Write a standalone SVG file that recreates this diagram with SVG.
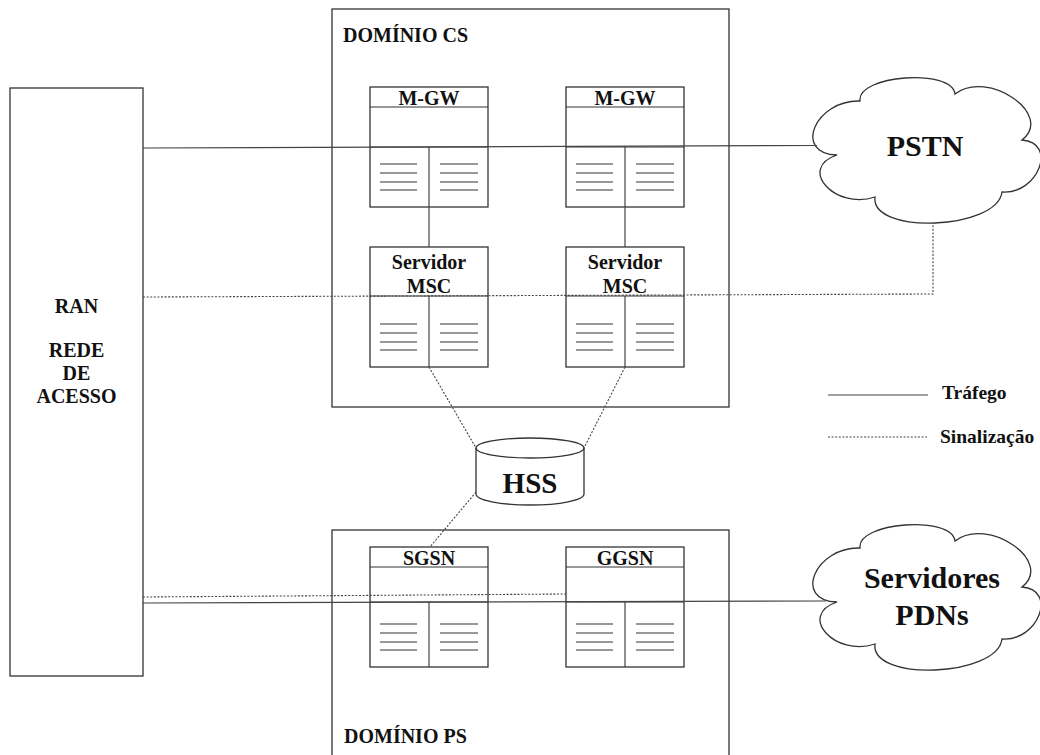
<svg xmlns="http://www.w3.org/2000/svg" xmlns:xlink="http://www.w3.org/1999/xlink" width="1040" height="755" viewBox="0 0 1040 755">
  <style>
    .box { fill: #fff; stroke: #333; stroke-width: 1.3; }
    .dom { fill: none; stroke: #333; stroke-width: 1.3; }
    .rule { stroke: #333; stroke-width: 1.1; }
    .solid { fill: none; stroke: #444; stroke-width: 1.2; }
    .dotted { fill: none; stroke: #444; stroke-width: 1.1; stroke-dasharray: 2 1.6; }
    text { font-family: "Liberation Serif", "Times New Roman", serif; font-weight: bold; fill: #111; }
    .lbl { font-size: 20px; }
    .mid { text-anchor: middle; }
    .big { font-size: 30px; }
    .leg { font-size: 19.5px; }
  </style>
  <defs>
    <!-- cloud outline made of six lobes -->
    <path id="cloud" d="M860,101 C856.7,75 951.7,68 955,94 C987.7,68.7 1054.7,114.7 1022,140 C1058,142.7 1038,194.7 1002,192 C997.3,230 870.3,235 875,197 C835,210.3 797,168.3 837,155 C792.3,153.7 815.3,99.7 860,101 Z"/>
    <!-- compartment with text rules, drawn relative to the box bottom-left -->
    <g id="rules">
      <line class="rule" x1="10" y1="-43" x2="47" y2="-43"/>
      <line class="rule" x1="10" y1="-34" x2="47" y2="-34"/>
      <line class="rule" x1="10" y1="-25" x2="47" y2="-25"/>
      <line class="rule" x1="10" y1="-17" x2="47" y2="-17"/>
      <line class="rule" x1="70" y1="-43" x2="108" y2="-43"/>
      <line class="rule" x1="70" y1="-34" x2="108" y2="-34"/>
      <line class="rule" x1="70" y1="-25" x2="108" y2="-25"/>
      <line class="rule" x1="70" y1="-17" x2="108" y2="-17"/>
    </g>
  </defs>

  <rect width="1040" height="755" fill="#fff"/>

  <!-- access network -->
  <g id="ran">
    <rect class="box" x="10" y="88" width="133" height="588"/>
    <text class="lbl mid" x="76.5" y="313">RAN</text>
    <text class="lbl mid" x="76.5" y="357">REDE</text>
    <text class="lbl mid" x="76.5" y="380">DE</text>
    <text class="lbl mid" x="76.5" y="403">ACESSO</text>
  </g>

  <!-- circuit-switched domain -->
  <g id="dominio-cs">
    <rect class="dom" x="332" y="9" width="397" height="398"/>
    <text class="lbl" x="343" y="42">DOMÍNIO CS</text>
  </g>

  <!-- packet-switched domain -->
  <g id="dominio-ps">
    <rect class="dom" x="332" y="530" width="397" height="240"/>
    <text class="lbl" x="344" y="743">DOMÍNIO PS</text>
  </g>

  <g id="mgw-1">
    <rect class="box" x="370" y="87" width="118" height="120"/>
    <line class="rule" x1="370" y1="107" x2="488" y2="107"/>
    <line class="rule" x1="370" y1="147" x2="488" y2="147"/>
    <line class="rule" x1="429" y1="147" x2="429" y2="207"/>
    <use xlink:href="#rules" transform="translate(370,207)"/>
    <text class="lbl mid" x="429" y="105">M-GW</text>
  </g>

  <g id="mgw-2">
    <rect class="box" x="566" y="87" width="118" height="120"/>
    <line class="rule" x1="566" y1="107" x2="684" y2="107"/>
    <line class="rule" x1="566" y1="147" x2="684" y2="147"/>
    <line class="rule" x1="625" y1="147" x2="625" y2="207"/>
    <use xlink:href="#rules" transform="translate(566,207)"/>
    <text class="lbl mid" x="625" y="105">M-GW</text>
  </g>

  <g id="msc-1">
    <rect class="box" x="370" y="247" width="118" height="120"/>
    <line class="rule" x1="370" y1="296" x2="488" y2="296"/>
    <line class="rule" x1="429" y1="296" x2="429" y2="367"/>
    <use xlink:href="#rules" transform="translate(370,367)"/>
    <text class="lbl mid" x="429" y="269">Servidor</text>
    <text class="lbl mid" x="429" y="293">MSC</text>
  </g>

  <g id="msc-2">
    <rect class="box" x="566" y="247" width="118" height="120"/>
    <line class="rule" x1="566" y1="296" x2="684" y2="296"/>
    <line class="rule" x1="625" y1="296" x2="625" y2="367"/>
    <use xlink:href="#rules" transform="translate(566,367)"/>
    <text class="lbl mid" x="625" y="269">Servidor</text>
    <text class="lbl mid" x="625" y="293">MSC</text>
  </g>

  <g id="sgsn">
    <rect class="box" x="370" y="547" width="118" height="120"/>
    <line class="rule" x1="370" y1="567" x2="488" y2="567"/>
    <line class="rule" x1="370" y1="602" x2="488" y2="602"/>
    <line class="rule" x1="429" y1="602" x2="429" y2="667"/>
    <use xlink:href="#rules" transform="translate(370,667)"/>
    <text class="lbl mid" x="429" y="565">SGSN</text>
  </g>

  <g id="ggsn">
    <rect class="box" x="566" y="547" width="118" height="120"/>
    <line class="rule" x1="566" y1="567" x2="684" y2="567"/>
    <line class="rule" x1="566" y1="602" x2="684" y2="602"/>
    <line class="rule" x1="625" y1="602" x2="625" y2="667"/>
    <use xlink:href="#rules" transform="translate(566,667)"/>
    <text class="lbl mid" x="625" y="565">GGSN</text>
  </g>

  <!-- subscriber database cylinder -->
  <g id="hss">
    <path class="box" d="M476,448 A54,10 0 0 1 584,448 L584,494 A54,11 0 0 1 476,494 Z"/>
    <path class="solid" d="M476,448 A54,10 0 0 0 584,448" style="stroke:#333;stroke-width:1.3"/>
    <text class="mid" x="530" y="493" style="font-size:29px">HSS</text>
  </g>

  <g id="pstn">
    <use xlink:href="#cloud" class="box"/>
    <text class="big mid" x="925" y="156">PSTN</text>
  </g>

  <g id="pdn">
    <use xlink:href="#cloud" class="box" transform="translate(0,447)"/>
    <text class="big mid" x="932" y="588">Servidores</text>
    <text class="big mid" x="932" y="625">PDNs</text>
  </g>

  <!-- connectors -->
  <g id="connectors">
    <line class="solid" x1="143" y1="148" x2="817" y2="145.5"/>
    <line class="solid" x1="429" y1="207" x2="429" y2="247"/>
    <line class="solid" x1="625" y1="207" x2="625" y2="247"/>
    <polyline class="dotted" points="143,297 933,294 933,223"/>
    <line class="dotted" x1="429" y1="367" x2="476" y2="448"/>
    <line class="dotted" x1="625" y1="367" x2="584" y2="448"/>
    <line class="dotted" x1="476" y1="492" x2="430" y2="547"/>
    <line class="dotted" x1="143" y1="597" x2="566" y2="594"/>
    <line class="solid" x1="143" y1="603" x2="826" y2="601"/>
  </g>

  <!-- legend -->
  <g id="legend">
    <line class="solid" x1="828" y1="395" x2="928" y2="395"/>
    <text class="leg" x="942" y="399">Tráfego</text>
    <line class="dotted" x1="828" y1="437" x2="927" y2="437"/>
    <text class="leg" x="940" y="443">Sinalização</text>
  </g>
</svg>
